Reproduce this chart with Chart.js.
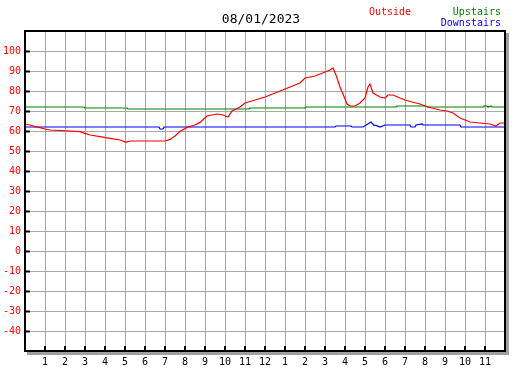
<!DOCTYPE html>
<html>
<head>
<meta charset="utf-8">
<script src="https://cdn.jsdelivr.net/npm/chart.js@4/dist/chart.umd.min.js"></script>
<style>
html,body{margin:0;padding:0;background:#fff;}
#wrap{width:527px;height:370px;position:relative;}
</style>
</head>
<body>
<div id="wrap"><canvas id="c" width="527" height="370"></canvas></div>
<script>
// ---- data (hours since midnight, degrees) ----
const titleText = "08/01/2023";
const seriesNames = ["Outside", "Upstairs", "Downstairs"];
const seriesColors = ["#ff0000", "#008000", "#0000ff"];

const outsideHours = [0,0.25,0.5,0.75,1,1.25,2.75,3,3.25,3.75,4.25,4.75,5.05,5.25,7,7.25,7.5,7.75,8.1,8.5,8.75,9.1,9.6,9.9,10.15,10.35,10.75,11,11.5,12,12.5,13,13.5,13.75,14,14.5,14.75,15,15.25,15.4,15.55,15.75,16,16.1,16.25,16.5,16.75,17,17.15,17.25,17.4,17.75,18,18.15,18.4,18.75,19,19.35,19.75,20,20.35,20.75,21.1,21.4,21.75,22,22.25,22.75,23.25,23.55,23.75,24];
const outsideTemps = [63.5,63,62.2,61.7,61,60.5,59.7,58.8,58,57.2,56.3,55.5,54.3,55,55,55.8,57.5,59.7,61.8,63,64.3,67.5,68.5,68,67,70,72,74,75.5,77,79,81,83,84,86.5,87.5,88.5,89.5,90.5,91.5,88,82,76,73.5,72.5,72.5,74,76.5,82,83.5,79,77,76.5,78,78,76.5,75.5,74.5,73.5,72.5,71.5,70.5,70,69,66.5,65.5,64.5,64,63.5,62.5,64,64];

const upstairsHours = [0,2.95,3,5.1,5.15,11.2,11.25,14,14.05,18.55,18.6,20.05,20.1,22.9,22.95,23.1,23.15,23.3,23.35,24];
const upstairsTemps = [72,72,71.5,71.5,71,71,71.5,71.5,72,72,72.5,72.5,72,72,72.5,72.5,72,72.5,72,72];

const downstairsHours = [0,6.7,6.75,6.9,6.95,15.5,15.55,16.3,16.35,16.9,17.3,17.45,17.55,17.75,18,19.25,19.3,19.5,19.55,19.85,19.9,21.75,21.8,24];
const downstairsTemps = [62,62,61,61,62,62,62.5,62.5,62,62,64.5,62.8,62.8,62,63,63,62,62,63,63.5,63,63,62,62];

const yMin = -50, yMax = 110, yLabelMin = -40, yLabelMax = 100;
const xMin = 0, xMax = 24;
const hourLabels = ["","1","2","3","4","5","6","7","8","9","10","11","12","1","2","3","4","5","6","7","8","9","10","11",""];

function pts(hs, vs){ return hs.map((h,i)=>({x:h,y:vs[i]})); }

const MONO = "'DejaVu Sans Mono', 'Liberation Mono', monospace";

const deco = {
  id: 'deco',
  afterDraw(chart){
    const ctx = chart.ctx, a = chart.chartArea;
    const xs = chart.scales.x, ys = chart.scales.y;
    ctx.save();
    // shadow
    ctx.fillStyle = '#a0a0a0';
    ctx.fillRect(a.right+1, a.top+2, 3, a.bottom - a.top + 2);
    ctx.fillRect(a.left+2, a.bottom+1, a.right - a.left + 2, 3);
    // border
    ctx.strokeStyle = '#000';
    ctx.lineWidth = 2;
    ctx.strokeRect(a.left, a.top, a.right - a.left, a.bottom - a.top);
    // tick marks inside
    ctx.lineWidth = 2;
    ctx.beginPath();
    for (let v = yLabelMin; v <= yLabelMax; v += 10){
      const y = Math.round(ys.getPixelForValue(v)) + 0.5;
      ctx.moveTo(a.left, y); ctx.lineTo(a.left + 5, y);
    }
    for (let h = 1; h < 24; h++){
      const x = Math.round(xs.getPixelForValue(h));
      ctx.moveTo(x, a.bottom); ctx.lineTo(x, a.bottom - 5);
    }
    ctx.stroke();
    // title
    ctx.textBaseline = 'middle';
    ctx.font = "13px " + MONO;
    ctx.fillStyle = '#000';
    ctx.textAlign = 'center';
    ctx.fillText(titleText, 261, 20);
    // legend
    ctx.font = "10px " + MONO;
    ctx.textAlign = 'left';
    ctx.fillStyle = seriesColors[0];
    ctx.fillText(seriesNames[0], 369, 12);
    ctx.textAlign = 'right';
    ctx.fillStyle = seriesColors[1];
    ctx.fillText(seriesNames[1], 501, 12);
    ctx.fillStyle = seriesColors[2];
    ctx.fillText(seriesNames[2], 501, 23);
    ctx.restore();
  }
};

new Chart(document.getElementById('c'), {
  type: 'line',
  data: {
    datasets: [
      {label: seriesNames[0], data: pts(outsideHours, outsideTemps), borderColor: seriesColors[0]},
      {label: seriesNames[1], data: pts(upstairsHours, upstairsTemps), borderColor: seriesColors[1]},
      {label: seriesNames[2], data: pts(downstairsHours, downstairsTemps), borderColor: seriesColors[2]}
    ].map(d => Object.assign(d, {borderWidth: 1.2, pointRadius: 0, tension: 0, fill: false}))
  },
  options: {
    responsive: false,
    animation: false,
    events: [],
    layout: {padding: {top: 31, right: 22, left: 0, bottom: 0}},
    plugins: {legend: {display: false}, title: {display: false}, tooltip: {enabled: false}},
    scales: {
      x: {
        type: 'linear', min: xMin, max: xMax,
        afterFit(s){ s.height = 19; },
        border: {display: false},
        grid: {color: '#a8a8a8', lineWidth: 1, drawTicks: false},
        ticks: {
          stepSize: 1, autoSkip: false, maxRotation: 0, padding: 5,
          color: '#000', font: {family: MONO, size: 10},
          callback: (v) => hourLabels[v] !== undefined ? hourLabels[v] : ''
        }
      },
      y: {
        type: 'linear', min: yMin, max: yMax,
        afterFit(s){ s.width = 25; },
        border: {display: false},
        grid: {color: '#a8a8a8', lineWidth: 1, drawTicks: false},
        ticks: {
          stepSize: 10, padding: 4,
          color: '#ff0000', font: {family: MONO, size: 10},
          callback: (v) => (v >= yLabelMin && v <= yLabelMax) ? String(v) : ''
        }
      }
    }
  },
  plugins: [deco]
});
</script>
</body>
</html>
